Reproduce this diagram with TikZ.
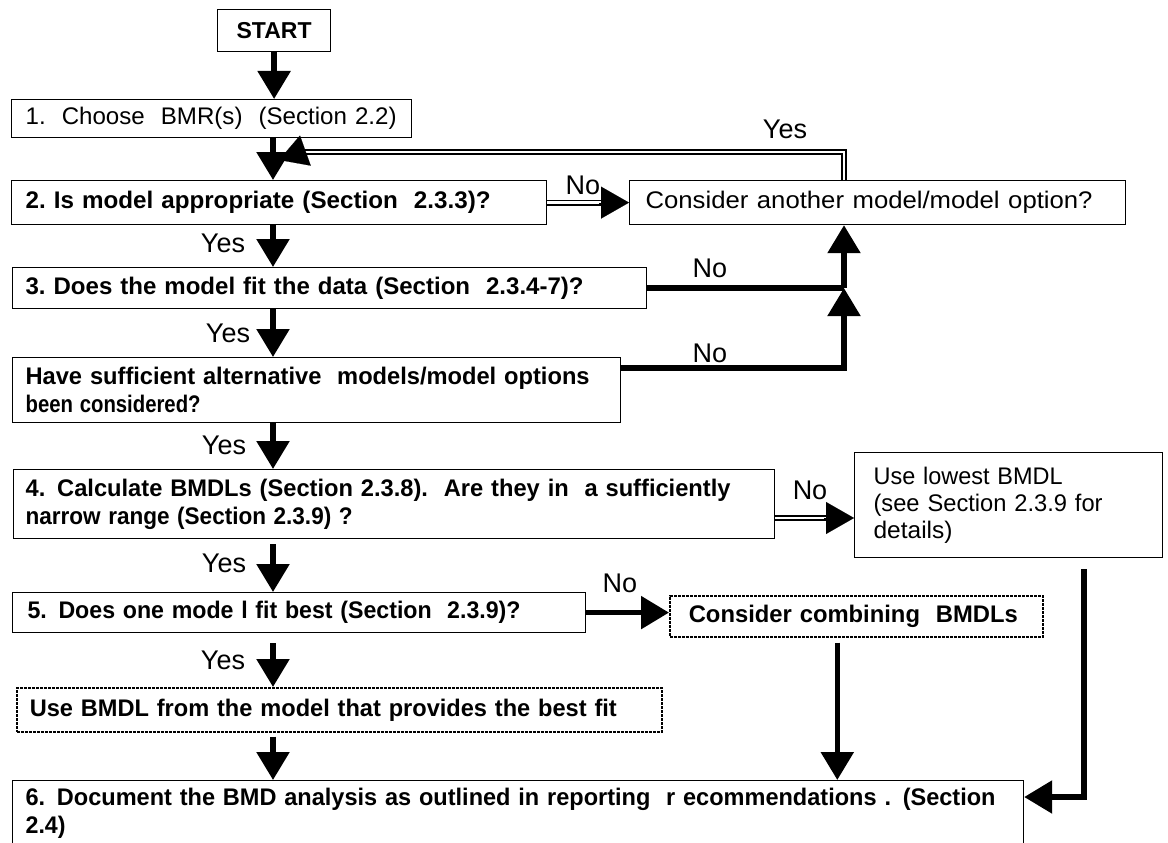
\documentclass[tikz,border=0pt]{standalone}
\usepackage{fontspec}
\setmainfont{Liberation Sans}
\usepackage{graphicx}
\usetikzlibrary{arrows.meta,calc}
\newcommand{\sx}[2]{\resizebox{#1pt}{\height}{#2}}
\begin{document}
\begin{tikzpicture}[x=1pt,y=-1pt,
 box/.style={draw, line width=1.2pt, anchor=north west, inner ysep=0pt, align=left, font=\fontsize{24}{28}\selectfont\bfseries},
 rbox/.style={box, font=\fontsize{24}{27}\selectfont},
 dbox/.style={box, dash pattern=on 3pt off 1pt, line width=1.6pt},
 arr/.style={line width=5.5pt, line join=miter, -{Triangle[width=32pt,length=28pt]}},
 fat/.style={line width=5.5pt, line join=miter},
 dbl/.style={line width=1.8pt, double=white, double distance=2.4pt, line join=miter},
 hd/.style={line width=0.1pt, -{Triangle[width=32pt,length=28pt]}},
 lbl/.style={font=\fontsize{27}{27}\selectfont, inner sep=0pt},
]
\useasboundingbox (0,0) rectangle (1168,843);
\clip (0,0) rectangle (1168,843);

% boxes
\node[box, minimum width=113pt, minimum height=42pt, inner xsep=0pt, align=center, font=\fontsize{23}{23}\selectfont\bfseries] (start) at (217,9) {START};
\node[rbox, text width=372pt, inner xsep=14pt, minimum height=38pt] (b1) at (11,99) {\sx{371}{1.~~Choose~~BMR(s)~~(Section 2.2)}};
\node[box, text width=507pt, inner xsep=14pt, minimum height=44pt] (b2) at (11,180) {\sx{465}{2.~Is model appropriate (Section~~2.3.3)?}};
\node[rbox, text width=464pt, inner xsep=16pt, minimum height=44pt] (cons) at (629,180) {\sx{447}{Consider another model/model option?}};
\node[box, text width=608pt, inner xsep=13pt, minimum height=41pt] (b3) at (12,267) {\sx{558}{3.~Does the model fit the data (Section~~2.3.4-7)?}};
\node[box, text width=582pt, inner xsep=13pt, minimum height=65pt] (b4a) at (12,357) {\sx{564}{Have sufficient alternative~~models/model options}\\\sx{175}{been considered?}};
\node[box, text width=737pt, inner xsep=12pt, minimum height=69pt] (b4) at (13,469) {\sx{705}{4. Calculate BMDLs (Section 2.3.8).~~Are they in~~a sufficiently}\\\sx{327}{narrow range (Section 2.3.9) ?}};
\node[rbox, text width=270pt, inner xsep=19pt, minimum height=105pt] (low) at (854,452) {\sx{189}{Use lowest BMDL}\\\sx{229}{(see Section 2.3.9 for}\\\sx{79}{details)}};
\node[box, text width=543pt, inner xsep=15pt, minimum height=40pt] (b5) at (12,592) {\sx{493}{5. Does one mode l fit best (Section~~2.3.9)?}};
\node[dbox, text width=335pt, inner xsep=19pt, minimum height=41pt] (comb) at (669,595) {\sx{329}{Consider combining~~BMDLs}};
\node[dbox, text width=619pt, inner xsep=13pt, minimum height=44pt] (ubmdl) at (16,687) {\sx{587}{Use BMDL from the model that provides the best fit}};
\node[box, text width=985pt, inner xsep=13pt, inner ysep=8pt] (b6) at (12,780) {\sx{970}{6. Document the BMD analysis as outlined in reporting~~r ecommendations . (Section}\\\sx{40}{2.4)}};

% helper coordinates
\coordinate (colx) at (273,0);
\coordinate (lx) at (844,0);
\coordinate (ly) at (0,152);
\coordinate (lend) at (300,152);
\coordinate (lhb) at (307,150);
\coordinate (lht) at (279,160);
\coordinate (rx) at (1084,0);

% main column
\draw[arr] (start.south) -- (start.south |- b1.north);
\draw[arr] (b1.south -| colx) -- (b2.north -| colx);
\draw[arr] (b2.south -| colx) -- (b3.north -| colx);
\draw[arr] (b3.south -| colx) -- (b4a.north -| colx);
\draw[arr] (b4a.south -| colx) -- (b4.north -| colx);
\draw[arr] ($(b4.south -| colx)+(0,5)$) -- (b5.north -| colx);
\draw[arr] ($(b5.south -| colx)+(0,10)$) -- (ubmdl.north -| colx);
\draw[arr] ($(ubmdl.south -| colx)+(0,4)$) -- (b6.north -| colx);

% No from 2
\draw[dbl] (b2.east) -- ($(cons.west)+(-18,0)$);
\draw[hd] ($(cons.west)+(-30,0)$) -- (cons.west);

% Yes loop
\draw[dbl] (cons.north -| lx) -- (lx |- ly) -- (lend);
\draw[hd] (lhb) -- (lht);

% No from 3 and from sufficient
\coordinate (j1) at (b3.east -| lx);
\draw[fat] (b3.east) -- (j1);
\draw[arr] (j1) -- (cons.south -| lx);
\draw[arr] ($(b4a.north east)+(0,11)$) -| (j1);

% No from 4
\coordinate (n4s) at ($(b4.north east)+(0,49)$);
\draw[dbl] (n4s) -- ($(low.west |- n4s)+(-18,0)$);
\draw[hd] ($(low.west |- n4s)+(-30,0)$) -- (low.west |- n4s);

% No from 5
\draw[arr] (b5.east) -- (comb.west |- b5.east);

% combining to 6
\draw[arr] ($(comb.south)+(-19,5)$) -- ($(comb.south |- b6.north)+(-19,0)$);

% lowest to 6
\draw[arr] ($(low.south -| rx)+(0,11)$) |- ($(b6.north east)+(0,17)$);

% labels
\node[lbl] (y0) at (785,129) {Yes};
\node[lbl] (n1) at (583,185) {No};
\node[lbl] (y1) at (223,243) {Yes};
\node[lbl] (n2) at (710,268) {No};
\node[lbl] (y2) at (228,333) {Yes};
\node[lbl] (n3) at (710,353) {No};
\node[lbl] (y3) at (224,445) {Yes};
\node[lbl] (n4) at (810,490) {No};
\node[lbl] (y4) at (224,563) {Yes};
\node[lbl] (n5) at (620,583) {No};
\node[lbl] (y5) at (223,660) {Yes};
\end{tikzpicture}
\end{document}
